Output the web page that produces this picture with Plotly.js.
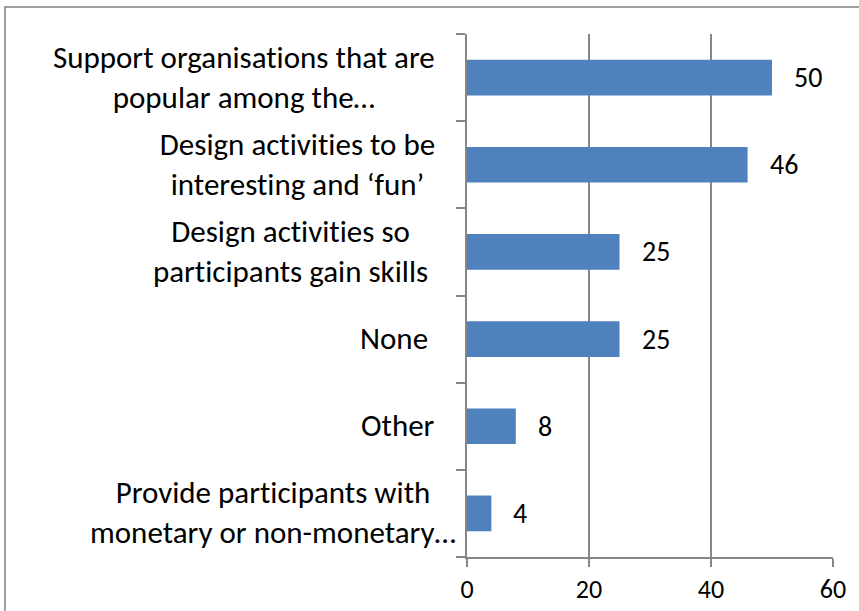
<!DOCTYPE html>
<html>
<head>
<meta charset="utf-8">
<script src="https://cdn.plot.ly/plotly-3.0.1.min.js"></script>
<style>html,body{margin:0;padding:0;background:#fff;}#chart{width:859px;height:611px;}#chart text{font-variant-ligatures:none;font-feature-settings:"liga" 0,"clig" 0;}</style>
</head>
<body>
<div id="chart"></div>
<script>
// Data
const categories = [
  "Support organisations that are<br>popular among the…",
  "Design activities to be<br>interesting and ‘fun’",
  "Design activities so<br>participants gain skills",
  "None",
  "Other",
  "Provide participants with<br>monetary or non-monetary…"
];
const values = [50, 46, 25, 25, 8, 4];
const xTicks = [0, 20, 40, 60];

// Style (label right-edge shifts, px)
const labelShift = [-30, -30, -37, -37, -30, -9];

const FONT = "Carlito, Calibri, Lato, sans-serif";
const cats = categories.map((c, i) => "c" + i);

const annotations = [];
categories.forEach((c, i) => {
  annotations.push({
    xref: "paper", yref: "y", x: 0, y: cats[i],
    xanchor: "right", yanchor: "middle", align: "center",
    xshift: labelShift[i], yshift: 1, showarrow: false, text: c,
    font: {family: FONT, size: 31, color: "#000"}
  });
  annotations.push({
    xref: "x", yref: "y", x: values[i], y: cats[i],
    xanchor: "left", yanchor: "middle", xshift: 20, showarrow: false,
    text: String(values[i]),
    font: {family: FONT, size: 28, color: "#000"}
  });
});

const trace = {
  type: "bar", orientation: "h",
  x: values, y: cats,
  marker: {color: "#4f81bd", line: {width: 0}},
  width: 0.41, hoverinfo: "none"
};

const layout = {
  width: 859, height: 611,
  margin: {l: 467, r: 26, t: 34, b: 54, pad: 0},
  paper_bgcolor: "#fff", plot_bgcolor: "#fff",
  showlegend: false,
  font: {family: FONT, color: "#000"},
  xaxis: {
    range: [0, 60], tickvals: xTicks, ticktext: xTicks.map(String),
    showgrid: true, gridcolor: "#868686", gridwidth: 2,
    zeroline: false, showline: true, linecolor: "#868686", linewidth: 2,
    ticks: "outside", ticklen: 8, tickwidth: 2, tickcolor: "#868686",
    tickfont: {family: FONT, size: 26, color: "#000"}, fixedrange: true
  },
  yaxis: {
    type: "category", categoryorder: "array", categoryarray: cats.slice().reverse(),
    autorange: false, range: [-0.5, 5.5],
    showticklabels: false, showgrid: false, zeroline: false,
    showline: true, linecolor: "#868686", linewidth: 2,
    ticks: "outside", tickson: "boundaries", ticklen: 9, tickwidth: 2, tickcolor: "#868686",
    fixedrange: true
  },
  annotations: annotations,
  shapes: [{
    type: "rect", xref: "paper", yref: "paper",
    x0: (5 - 467) / 366, x1: 1.3, y0: -0.3, y1: 1 + (34 - 7) / 523,
    line: {color: "#7f7f7f", width: 1.5}, fillcolor: "rgba(0,0,0,0)", layer: "below"
  }]
};

Plotly.newPlot("chart", [trace], layout, {displayModeBar: false, staticPlot: true});
</script>
</body>
</html>
